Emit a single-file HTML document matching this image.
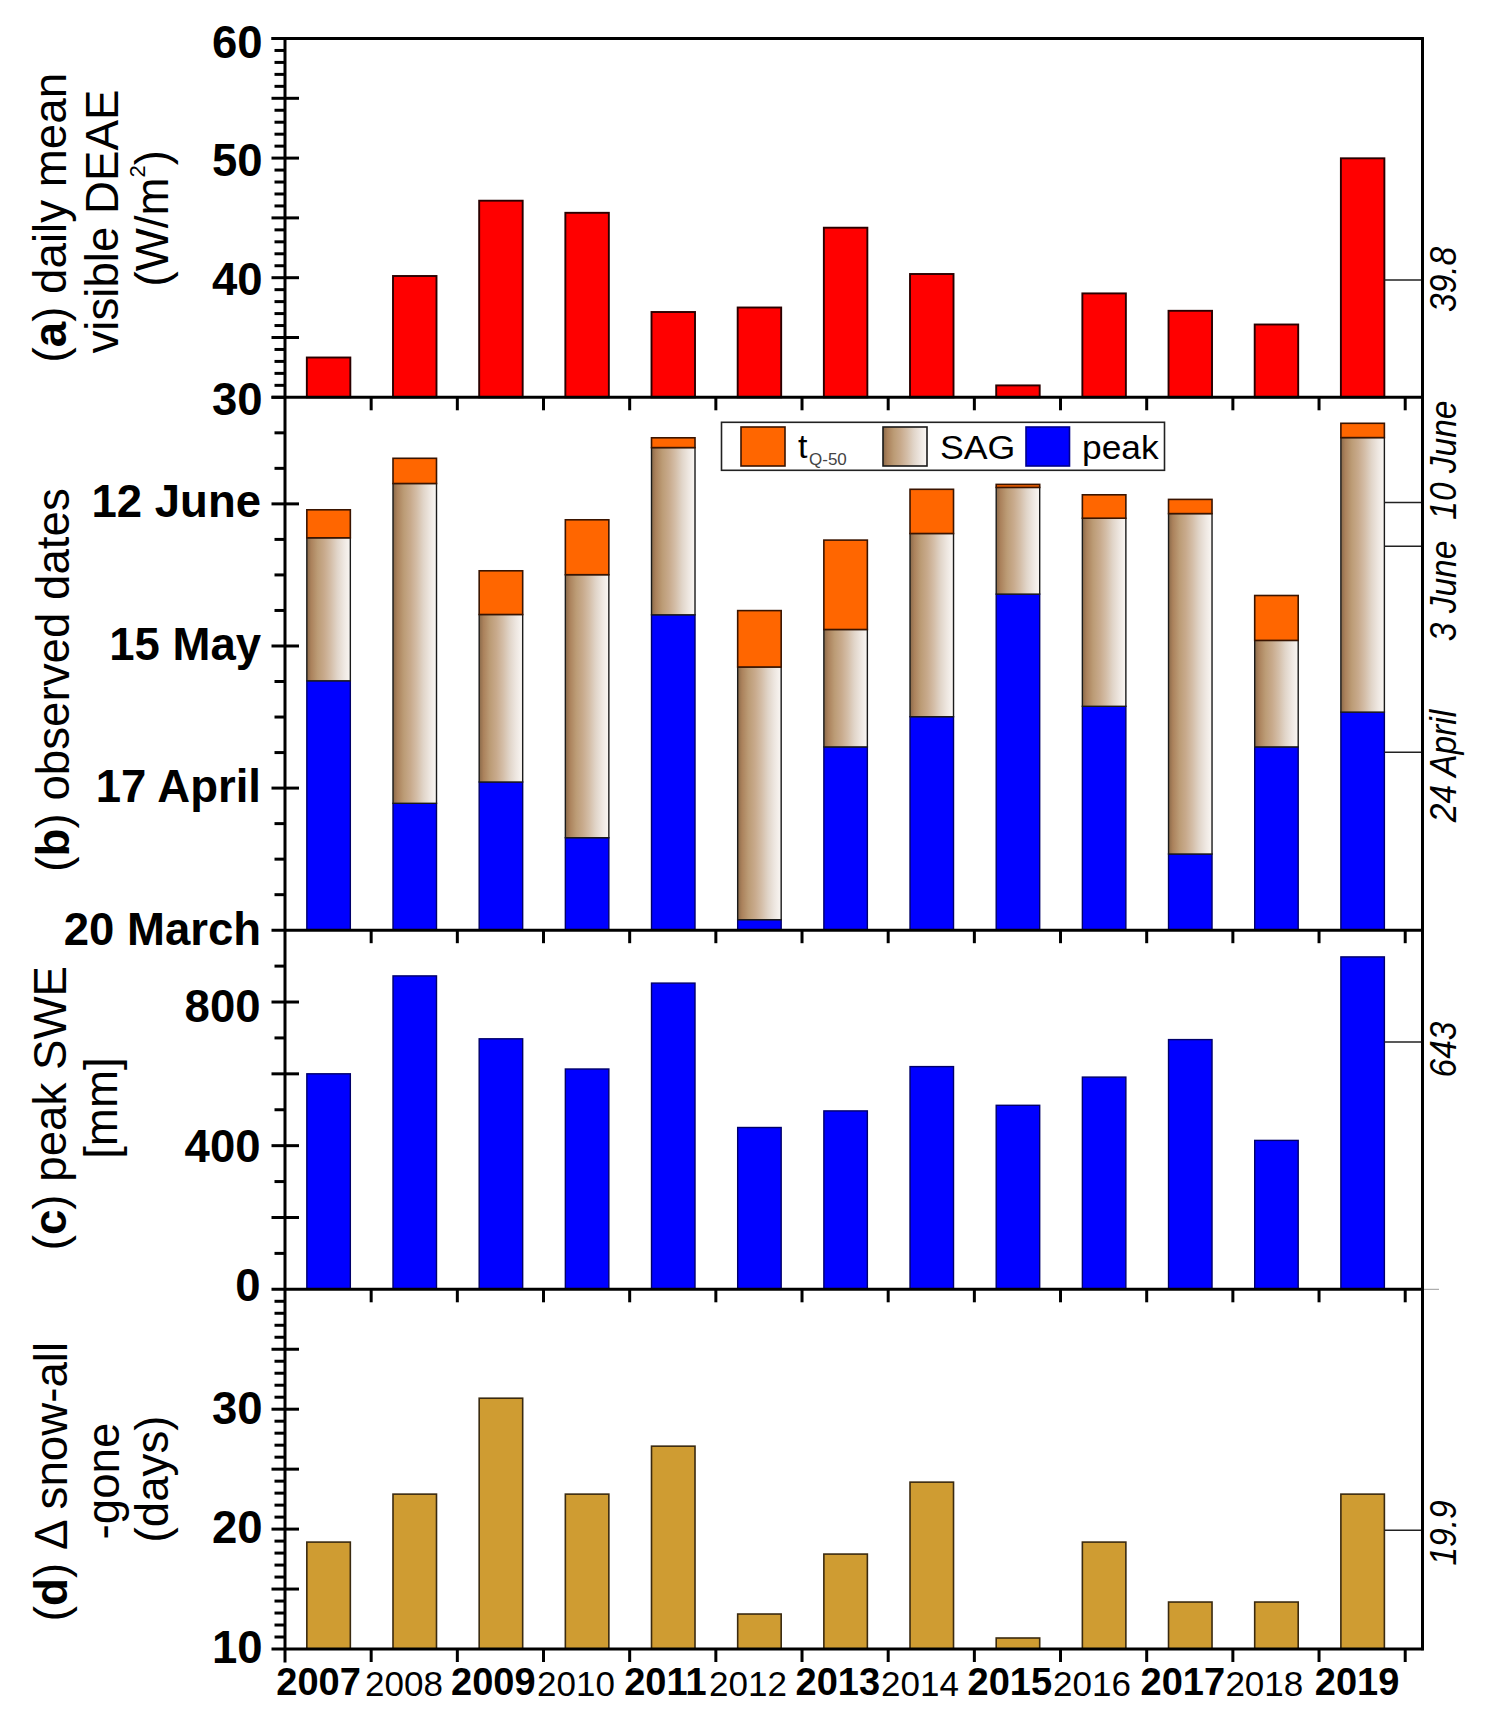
<!DOCTYPE html><html><head><meta charset="utf-8"><title>chart</title>
<style>html,body{margin:0;padding:0;background:#fff;}svg{display:block;}text{font-family:"Liberation Sans", sans-serif;}</style></head><body>
<svg width="1488" height="1725" viewBox="0 0 1488 1725">
<defs><linearGradient id="sag" x1="0" y1="0" x2="1" y2="0"><stop offset="0" stop-color="#8a6a4a"/><stop offset="0.1" stop-color="#ab825c"/><stop offset="0.25" stop-color="#bc9c76"/><stop offset="0.4" stop-color="#c8aa8c"/><stop offset="0.55" stop-color="#d4bea8"/><stop offset="0.7" stop-color="#e1d5c9"/><stop offset="0.85" stop-color="#eee7e1"/><stop offset="1" stop-color="#faf7f4"/></linearGradient></defs>
<rect width="1488" height="1725" fill="#fff"/>
<rect x="306.83" y="357.5" width="43.5" height="39.8" fill="#ff0000" stroke="#2a0000" stroke-width="1.9"/>
<rect x="393" y="276" width="43.5" height="121.3" fill="#ff0000" stroke="#2a0000" stroke-width="1.9"/>
<rect x="479.18" y="200.7" width="43.5" height="196.6" fill="#ff0000" stroke="#2a0000" stroke-width="1.9"/>
<rect x="565.35" y="212.8" width="43.5" height="184.5" fill="#ff0000" stroke="#2a0000" stroke-width="1.9"/>
<rect x="651.51" y="312" width="43.5" height="85.3" fill="#ff0000" stroke="#2a0000" stroke-width="1.9"/>
<rect x="737.68" y="307.5" width="43.5" height="89.8" fill="#ff0000" stroke="#2a0000" stroke-width="1.9"/>
<rect x="823.86" y="227.7" width="43.5" height="169.6" fill="#ff0000" stroke="#2a0000" stroke-width="1.9"/>
<rect x="910.02" y="274" width="43.5" height="123.3" fill="#ff0000" stroke="#2a0000" stroke-width="1.9"/>
<rect x="996.2" y="385.4" width="43.5" height="11.9" fill="#ff0000" stroke="#2a0000" stroke-width="1.9"/>
<rect x="1082.37" y="293.4" width="43.5" height="103.9" fill="#ff0000" stroke="#2a0000" stroke-width="1.9"/>
<rect x="1168.53" y="310.8" width="43.5" height="86.5" fill="#ff0000" stroke="#2a0000" stroke-width="1.9"/>
<rect x="1254.7" y="324.5" width="43.5" height="72.8" fill="#ff0000" stroke="#2a0000" stroke-width="1.9"/>
<rect x="1340.88" y="158.3" width="43.5" height="239" fill="#ff0000" stroke="#2a0000" stroke-width="1.9"/>
<rect x="306.83" y="680.8" width="43.5" height="249.4" fill="#0000ff" stroke="#00006a" stroke-width="1.4"/>
<rect x="306.83" y="537.8" width="43.5" height="143" fill="url(#sag)" stroke="#1a1a1a" stroke-width="1.4"/>
<rect x="306.83" y="509.8" width="43.5" height="28" fill="#ff6600" stroke="#3a1400" stroke-width="1.6"/>
<rect x="393" y="803.3" width="43.5" height="126.9" fill="#0000ff" stroke="#00006a" stroke-width="1.4"/>
<rect x="393" y="483.5" width="43.5" height="319.8" fill="url(#sag)" stroke="#1a1a1a" stroke-width="1.4"/>
<rect x="393" y="458.3" width="43.5" height="25.2" fill="#ff6600" stroke="#3a1400" stroke-width="1.6"/>
<rect x="479.18" y="782" width="43.5" height="148.2" fill="#0000ff" stroke="#00006a" stroke-width="1.4"/>
<rect x="479.18" y="614.5" width="43.5" height="167.5" fill="url(#sag)" stroke="#1a1a1a" stroke-width="1.4"/>
<rect x="479.18" y="570.8" width="43.5" height="43.7" fill="#ff6600" stroke="#3a1400" stroke-width="1.6"/>
<rect x="565.35" y="837.7" width="43.5" height="92.5" fill="#0000ff" stroke="#00006a" stroke-width="1.4"/>
<rect x="565.35" y="574.7" width="43.5" height="263" fill="url(#sag)" stroke="#1a1a1a" stroke-width="1.4"/>
<rect x="565.35" y="519.8" width="43.5" height="54.9" fill="#ff6600" stroke="#3a1400" stroke-width="1.6"/>
<rect x="651.51" y="614.8" width="43.5" height="315.4" fill="#0000ff" stroke="#00006a" stroke-width="1.4"/>
<rect x="651.51" y="447.6" width="43.5" height="167.2" fill="url(#sag)" stroke="#1a1a1a" stroke-width="1.4"/>
<rect x="651.51" y="437.8" width="43.5" height="9.8" fill="#ff6600" stroke="#3a1400" stroke-width="1.6"/>
<rect x="737.68" y="919.7" width="43.5" height="10.5" fill="#0000ff" stroke="#00006a" stroke-width="1.4"/>
<rect x="737.68" y="667" width="43.5" height="252.7" fill="url(#sag)" stroke="#1a1a1a" stroke-width="1.4"/>
<rect x="737.68" y="610.6" width="43.5" height="56.4" fill="#ff6600" stroke="#3a1400" stroke-width="1.6"/>
<rect x="823.86" y="746.9" width="43.5" height="183.3" fill="#0000ff" stroke="#00006a" stroke-width="1.4"/>
<rect x="823.86" y="629.5" width="43.5" height="117.4" fill="url(#sag)" stroke="#1a1a1a" stroke-width="1.4"/>
<rect x="823.86" y="540.1" width="43.5" height="89.4" fill="#ff6600" stroke="#3a1400" stroke-width="1.6"/>
<rect x="910.02" y="716.7" width="43.5" height="213.5" fill="#0000ff" stroke="#00006a" stroke-width="1.4"/>
<rect x="910.02" y="533.5" width="43.5" height="183.2" fill="url(#sag)" stroke="#1a1a1a" stroke-width="1.4"/>
<rect x="910.02" y="489.3" width="43.5" height="44.2" fill="#ff6600" stroke="#3a1400" stroke-width="1.6"/>
<rect x="996.2" y="594.1" width="43.5" height="336.1" fill="#0000ff" stroke="#00006a" stroke-width="1.4"/>
<rect x="996.2" y="487.4" width="43.5" height="106.7" fill="url(#sag)" stroke="#1a1a1a" stroke-width="1.4"/>
<rect x="996.2" y="484.4" width="43.5" height="3" fill="#ff6600" stroke="#3a1400" stroke-width="1.6"/>
<rect x="1082.37" y="706.3" width="43.5" height="223.9" fill="#0000ff" stroke="#00006a" stroke-width="1.4"/>
<rect x="1082.37" y="518.2" width="43.5" height="188.1" fill="url(#sag)" stroke="#1a1a1a" stroke-width="1.4"/>
<rect x="1082.37" y="494.8" width="43.5" height="23.4" fill="#ff6600" stroke="#3a1400" stroke-width="1.6"/>
<rect x="1168.53" y="854" width="43.5" height="76.2" fill="#0000ff" stroke="#00006a" stroke-width="1.4"/>
<rect x="1168.53" y="513.6" width="43.5" height="340.4" fill="url(#sag)" stroke="#1a1a1a" stroke-width="1.4"/>
<rect x="1168.53" y="499.4" width="43.5" height="14.2" fill="#ff6600" stroke="#3a1400" stroke-width="1.6"/>
<rect x="1254.7" y="746.9" width="43.5" height="183.3" fill="#0000ff" stroke="#00006a" stroke-width="1.4"/>
<rect x="1254.7" y="640.4" width="43.5" height="106.5" fill="url(#sag)" stroke="#1a1a1a" stroke-width="1.4"/>
<rect x="1254.7" y="595.5" width="43.5" height="44.9" fill="#ff6600" stroke="#3a1400" stroke-width="1.6"/>
<rect x="1340.88" y="712.1" width="43.5" height="218.1" fill="#0000ff" stroke="#00006a" stroke-width="1.4"/>
<rect x="1340.88" y="437.6" width="43.5" height="274.5" fill="url(#sag)" stroke="#1a1a1a" stroke-width="1.4"/>
<rect x="1340.88" y="423.3" width="43.5" height="14.3" fill="#ff6600" stroke="#3a1400" stroke-width="1.6"/>
<rect x="306.83" y="1073.8" width="43.5" height="215.5" fill="#0000ff" stroke="#00006a" stroke-width="1.4"/>
<rect x="393" y="975.9" width="43.5" height="313.4" fill="#0000ff" stroke="#00006a" stroke-width="1.4"/>
<rect x="479.18" y="1038.8" width="43.5" height="250.5" fill="#0000ff" stroke="#00006a" stroke-width="1.4"/>
<rect x="565.35" y="1069" width="43.5" height="220.3" fill="#0000ff" stroke="#00006a" stroke-width="1.4"/>
<rect x="651.51" y="983.1" width="43.5" height="306.2" fill="#0000ff" stroke="#00006a" stroke-width="1.4"/>
<rect x="737.68" y="1127.5" width="43.5" height="161.8" fill="#0000ff" stroke="#00006a" stroke-width="1.4"/>
<rect x="823.86" y="1110.9" width="43.5" height="178.4" fill="#0000ff" stroke="#00006a" stroke-width="1.4"/>
<rect x="910.02" y="1066.6" width="43.5" height="222.7" fill="#0000ff" stroke="#00006a" stroke-width="1.4"/>
<rect x="996.2" y="1105.3" width="43.5" height="184" fill="#0000ff" stroke="#00006a" stroke-width="1.4"/>
<rect x="1082.37" y="1077.1" width="43.5" height="212.2" fill="#0000ff" stroke="#00006a" stroke-width="1.4"/>
<rect x="1168.53" y="1039.6" width="43.5" height="249.7" fill="#0000ff" stroke="#00006a" stroke-width="1.4"/>
<rect x="1254.7" y="1140.4" width="43.5" height="148.9" fill="#0000ff" stroke="#00006a" stroke-width="1.4"/>
<rect x="1340.88" y="956.9" width="43.5" height="332.4" fill="#0000ff" stroke="#00006a" stroke-width="1.4"/>
<rect x="306.83" y="1542.09" width="43.5" height="106.91" fill="#cf9c32" stroke="#3a2a10" stroke-width="1.6"/>
<rect x="393" y="1494.13" width="43.5" height="154.87" fill="#cf9c32" stroke="#3a2a10" stroke-width="1.6"/>
<rect x="479.18" y="1398.21" width="43.5" height="250.79" fill="#cf9c32" stroke="#3a2a10" stroke-width="1.6"/>
<rect x="565.35" y="1494.13" width="43.5" height="154.87" fill="#cf9c32" stroke="#3a2a10" stroke-width="1.6"/>
<rect x="651.51" y="1446.17" width="43.5" height="202.83" fill="#cf9c32" stroke="#3a2a10" stroke-width="1.6"/>
<rect x="737.68" y="1614.03" width="43.5" height="34.97" fill="#cf9c32" stroke="#3a2a10" stroke-width="1.6"/>
<rect x="823.86" y="1554.08" width="43.5" height="94.92" fill="#cf9c32" stroke="#3a2a10" stroke-width="1.6"/>
<rect x="910.02" y="1482.14" width="43.5" height="166.86" fill="#cf9c32" stroke="#3a2a10" stroke-width="1.6"/>
<rect x="996.2" y="1638.01" width="43.5" height="10.99" fill="#cf9c32" stroke="#3a2a10" stroke-width="1.6"/>
<rect x="1082.37" y="1542.09" width="43.5" height="106.91" fill="#cf9c32" stroke="#3a2a10" stroke-width="1.6"/>
<rect x="1168.53" y="1602.04" width="43.5" height="46.96" fill="#cf9c32" stroke="#3a2a10" stroke-width="1.6"/>
<rect x="1254.7" y="1602.04" width="43.5" height="46.96" fill="#cf9c32" stroke="#3a2a10" stroke-width="1.6"/>
<rect x="1340.88" y="1494.13" width="43.5" height="154.87" fill="#cf9c32" stroke="#3a2a10" stroke-width="1.6"/>
<line x1="1384.5" y1="280.09" x2="1422.5" y2="280.09" stroke="#222" stroke-width="1.5"/>
<line x1="1384.5" y1="502.4" x2="1422.5" y2="502.4" stroke="#222" stroke-width="1.5"/>
<line x1="1384.5" y1="546.2" x2="1422.5" y2="546.2" stroke="#222" stroke-width="1.5"/>
<line x1="1384.5" y1="752.2" x2="1422.5" y2="752.2" stroke="#222" stroke-width="1.5"/>
<line x1="1384.5" y1="1042.1" x2="1422.5" y2="1042.1" stroke="#222" stroke-width="1.5"/>
<line x1="1384.5" y1="1530.3" x2="1422.5" y2="1530.3" stroke="#222" stroke-width="1.5"/>
<line x1="1422.5" y1="1289.3" x2="1439" y2="1289.3" stroke="#999" stroke-width="1"/>
<line x1="285" y1="37.2" x2="285" y2="1662.5" stroke="#000" stroke-width="3"/>
<line x1="1422.5" y1="37.2" x2="1422.5" y2="1650.3" stroke="#000" stroke-width="3"/>
<line x1="271.5" y1="38.5" x2="1423.8" y2="38.5" stroke="#000" stroke-width="3"/>
<line x1="271.5" y1="397.3" x2="1423.8" y2="397.3" stroke="#000" stroke-width="3"/>
<line x1="271.5" y1="930.2" x2="1423.8" y2="930.2" stroke="#000" stroke-width="3"/>
<line x1="271.5" y1="1289.3" x2="1423.8" y2="1289.3" stroke="#000" stroke-width="3"/>
<line x1="271.5" y1="1649" x2="1423.8" y2="1649" stroke="#000" stroke-width="3"/>
<line x1="371.17" y1="397.3" x2="371.17" y2="410.3" stroke="#000" stroke-width="3"/>
<line x1="457.34" y1="397.3" x2="457.34" y2="410.3" stroke="#000" stroke-width="3"/>
<line x1="543.51" y1="397.3" x2="543.51" y2="410.3" stroke="#000" stroke-width="3"/>
<line x1="629.68" y1="397.3" x2="629.68" y2="410.3" stroke="#000" stroke-width="3"/>
<line x1="715.85" y1="397.3" x2="715.85" y2="410.3" stroke="#000" stroke-width="3"/>
<line x1="802.02" y1="397.3" x2="802.02" y2="410.3" stroke="#000" stroke-width="3"/>
<line x1="888.19" y1="397.3" x2="888.19" y2="410.3" stroke="#000" stroke-width="3"/>
<line x1="974.36" y1="397.3" x2="974.36" y2="410.3" stroke="#000" stroke-width="3"/>
<line x1="1060.53" y1="397.3" x2="1060.53" y2="410.3" stroke="#000" stroke-width="3"/>
<line x1="1146.7" y1="397.3" x2="1146.7" y2="410.3" stroke="#000" stroke-width="3"/>
<line x1="1232.87" y1="397.3" x2="1232.87" y2="410.3" stroke="#000" stroke-width="3"/>
<line x1="1319.04" y1="397.3" x2="1319.04" y2="410.3" stroke="#000" stroke-width="3"/>
<line x1="1405.21" y1="397.3" x2="1405.21" y2="410.3" stroke="#000" stroke-width="3"/>
<line x1="371.17" y1="930.2" x2="371.17" y2="943.2" stroke="#000" stroke-width="3"/>
<line x1="457.34" y1="930.2" x2="457.34" y2="943.2" stroke="#000" stroke-width="3"/>
<line x1="543.51" y1="930.2" x2="543.51" y2="943.2" stroke="#000" stroke-width="3"/>
<line x1="629.68" y1="930.2" x2="629.68" y2="943.2" stroke="#000" stroke-width="3"/>
<line x1="715.85" y1="930.2" x2="715.85" y2="943.2" stroke="#000" stroke-width="3"/>
<line x1="802.02" y1="930.2" x2="802.02" y2="943.2" stroke="#000" stroke-width="3"/>
<line x1="888.19" y1="930.2" x2="888.19" y2="943.2" stroke="#000" stroke-width="3"/>
<line x1="974.36" y1="930.2" x2="974.36" y2="943.2" stroke="#000" stroke-width="3"/>
<line x1="1060.53" y1="930.2" x2="1060.53" y2="943.2" stroke="#000" stroke-width="3"/>
<line x1="1146.7" y1="930.2" x2="1146.7" y2="943.2" stroke="#000" stroke-width="3"/>
<line x1="1232.87" y1="930.2" x2="1232.87" y2="943.2" stroke="#000" stroke-width="3"/>
<line x1="1319.04" y1="930.2" x2="1319.04" y2="943.2" stroke="#000" stroke-width="3"/>
<line x1="1405.21" y1="930.2" x2="1405.21" y2="943.2" stroke="#000" stroke-width="3"/>
<line x1="371.17" y1="1289.3" x2="371.17" y2="1302.3" stroke="#000" stroke-width="3"/>
<line x1="457.34" y1="1289.3" x2="457.34" y2="1302.3" stroke="#000" stroke-width="3"/>
<line x1="543.51" y1="1289.3" x2="543.51" y2="1302.3" stroke="#000" stroke-width="3"/>
<line x1="629.68" y1="1289.3" x2="629.68" y2="1302.3" stroke="#000" stroke-width="3"/>
<line x1="715.85" y1="1289.3" x2="715.85" y2="1302.3" stroke="#000" stroke-width="3"/>
<line x1="802.02" y1="1289.3" x2="802.02" y2="1302.3" stroke="#000" stroke-width="3"/>
<line x1="888.19" y1="1289.3" x2="888.19" y2="1302.3" stroke="#000" stroke-width="3"/>
<line x1="974.36" y1="1289.3" x2="974.36" y2="1302.3" stroke="#000" stroke-width="3"/>
<line x1="1060.53" y1="1289.3" x2="1060.53" y2="1302.3" stroke="#000" stroke-width="3"/>
<line x1="1146.7" y1="1289.3" x2="1146.7" y2="1302.3" stroke="#000" stroke-width="3"/>
<line x1="1232.87" y1="1289.3" x2="1232.87" y2="1302.3" stroke="#000" stroke-width="3"/>
<line x1="1319.04" y1="1289.3" x2="1319.04" y2="1302.3" stroke="#000" stroke-width="3"/>
<line x1="1405.21" y1="1289.3" x2="1405.21" y2="1302.3" stroke="#000" stroke-width="3"/>
<line x1="371.17" y1="1649" x2="371.17" y2="1662" stroke="#000" stroke-width="3"/>
<line x1="457.34" y1="1649" x2="457.34" y2="1662" stroke="#000" stroke-width="3"/>
<line x1="543.51" y1="1649" x2="543.51" y2="1662" stroke="#000" stroke-width="3"/>
<line x1="629.68" y1="1649" x2="629.68" y2="1662" stroke="#000" stroke-width="3"/>
<line x1="715.85" y1="1649" x2="715.85" y2="1662" stroke="#000" stroke-width="3"/>
<line x1="802.02" y1="1649" x2="802.02" y2="1662" stroke="#000" stroke-width="3"/>
<line x1="888.19" y1="1649" x2="888.19" y2="1662" stroke="#000" stroke-width="3"/>
<line x1="974.36" y1="1649" x2="974.36" y2="1662" stroke="#000" stroke-width="3"/>
<line x1="1060.53" y1="1649" x2="1060.53" y2="1662" stroke="#000" stroke-width="3"/>
<line x1="1146.7" y1="1649" x2="1146.7" y2="1662" stroke="#000" stroke-width="3"/>
<line x1="1232.87" y1="1649" x2="1232.87" y2="1662" stroke="#000" stroke-width="3"/>
<line x1="1319.04" y1="1649" x2="1319.04" y2="1662" stroke="#000" stroke-width="3"/>
<line x1="1405.21" y1="1649" x2="1405.21" y2="1662" stroke="#000" stroke-width="3"/>
<line x1="271.5" y1="397.3" x2="285" y2="397.3" stroke="#000" stroke-width="3"/>
<line x1="274.5" y1="385.34" x2="285" y2="385.34" stroke="#000" stroke-width="3"/>
<line x1="274.5" y1="373.38" x2="285" y2="373.38" stroke="#000" stroke-width="3"/>
<line x1="274.5" y1="361.42" x2="285" y2="361.42" stroke="#000" stroke-width="3"/>
<line x1="274.5" y1="349.46" x2="285" y2="349.46" stroke="#000" stroke-width="3"/>
<line x1="271.5" y1="337.5" x2="299" y2="337.5" stroke="#000" stroke-width="3"/>
<line x1="274.5" y1="325.54" x2="285" y2="325.54" stroke="#000" stroke-width="3"/>
<line x1="274.5" y1="313.58" x2="285" y2="313.58" stroke="#000" stroke-width="3"/>
<line x1="274.5" y1="301.62" x2="285" y2="301.62" stroke="#000" stroke-width="3"/>
<line x1="274.5" y1="289.66" x2="285" y2="289.66" stroke="#000" stroke-width="3"/>
<line x1="271.5" y1="277.7" x2="299" y2="277.7" stroke="#000" stroke-width="3"/>
<line x1="274.5" y1="265.74" x2="285" y2="265.74" stroke="#000" stroke-width="3"/>
<line x1="274.5" y1="253.78" x2="285" y2="253.78" stroke="#000" stroke-width="3"/>
<line x1="274.5" y1="241.82" x2="285" y2="241.82" stroke="#000" stroke-width="3"/>
<line x1="274.5" y1="229.86" x2="285" y2="229.86" stroke="#000" stroke-width="3"/>
<line x1="271.5" y1="217.9" x2="299" y2="217.9" stroke="#000" stroke-width="3"/>
<line x1="274.5" y1="205.94" x2="285" y2="205.94" stroke="#000" stroke-width="3"/>
<line x1="274.5" y1="193.98" x2="285" y2="193.98" stroke="#000" stroke-width="3"/>
<line x1="274.5" y1="182.02" x2="285" y2="182.02" stroke="#000" stroke-width="3"/>
<line x1="274.5" y1="170.06" x2="285" y2="170.06" stroke="#000" stroke-width="3"/>
<line x1="271.5" y1="158.1" x2="299" y2="158.1" stroke="#000" stroke-width="3"/>
<line x1="274.5" y1="146.14" x2="285" y2="146.14" stroke="#000" stroke-width="3"/>
<line x1="274.5" y1="134.18" x2="285" y2="134.18" stroke="#000" stroke-width="3"/>
<line x1="274.5" y1="122.22" x2="285" y2="122.22" stroke="#000" stroke-width="3"/>
<line x1="274.5" y1="110.26" x2="285" y2="110.26" stroke="#000" stroke-width="3"/>
<line x1="271.5" y1="98.3" x2="299" y2="98.3" stroke="#000" stroke-width="3"/>
<line x1="274.5" y1="86.34" x2="285" y2="86.34" stroke="#000" stroke-width="3"/>
<line x1="274.5" y1="74.38" x2="285" y2="74.38" stroke="#000" stroke-width="3"/>
<line x1="274.5" y1="62.42" x2="285" y2="62.42" stroke="#000" stroke-width="3"/>
<line x1="274.5" y1="50.46" x2="285" y2="50.46" stroke="#000" stroke-width="3"/>
<line x1="271.5" y1="38.5" x2="285" y2="38.5" stroke="#000" stroke-width="3"/>
<line x1="274.5" y1="894.67" x2="285" y2="894.67" stroke="#000" stroke-width="3"/>
<line x1="274.5" y1="859.15" x2="285" y2="859.15" stroke="#000" stroke-width="3"/>
<line x1="274.5" y1="823.62" x2="285" y2="823.62" stroke="#000" stroke-width="3"/>
<line x1="271.5" y1="788.09" x2="299" y2="788.09" stroke="#000" stroke-width="3"/>
<line x1="274.5" y1="752.57" x2="285" y2="752.57" stroke="#000" stroke-width="3"/>
<line x1="274.5" y1="717.04" x2="285" y2="717.04" stroke="#000" stroke-width="3"/>
<line x1="274.5" y1="681.51" x2="285" y2="681.51" stroke="#000" stroke-width="3"/>
<line x1="271.5" y1="645.99" x2="299" y2="645.99" stroke="#000" stroke-width="3"/>
<line x1="274.5" y1="610.46" x2="285" y2="610.46" stroke="#000" stroke-width="3"/>
<line x1="274.5" y1="574.93" x2="285" y2="574.93" stroke="#000" stroke-width="3"/>
<line x1="274.5" y1="539.41" x2="285" y2="539.41" stroke="#000" stroke-width="3"/>
<line x1="271.5" y1="503.88" x2="299" y2="503.88" stroke="#000" stroke-width="3"/>
<line x1="274.5" y1="468.35" x2="285" y2="468.35" stroke="#000" stroke-width="3"/>
<line x1="274.5" y1="432.83" x2="285" y2="432.83" stroke="#000" stroke-width="3"/>
<line x1="274.5" y1="1253.39" x2="285" y2="1253.39" stroke="#000" stroke-width="3"/>
<line x1="271.5" y1="1217.48" x2="299" y2="1217.48" stroke="#000" stroke-width="3"/>
<line x1="274.5" y1="1181.57" x2="285" y2="1181.57" stroke="#000" stroke-width="3"/>
<line x1="271.5" y1="1145.66" x2="299" y2="1145.66" stroke="#000" stroke-width="3"/>
<line x1="274.5" y1="1109.75" x2="285" y2="1109.75" stroke="#000" stroke-width="3"/>
<line x1="271.5" y1="1073.84" x2="299" y2="1073.84" stroke="#000" stroke-width="3"/>
<line x1="274.5" y1="1037.93" x2="285" y2="1037.93" stroke="#000" stroke-width="3"/>
<line x1="271.5" y1="1002.02" x2="299" y2="1002.02" stroke="#000" stroke-width="3"/>
<line x1="274.5" y1="966.11" x2="285" y2="966.11" stroke="#000" stroke-width="3"/>
<line x1="274.5" y1="1637.01" x2="285" y2="1637.01" stroke="#000" stroke-width="3"/>
<line x1="274.5" y1="1625.02" x2="285" y2="1625.02" stroke="#000" stroke-width="3"/>
<line x1="274.5" y1="1613.03" x2="285" y2="1613.03" stroke="#000" stroke-width="3"/>
<line x1="274.5" y1="1601.04" x2="285" y2="1601.04" stroke="#000" stroke-width="3"/>
<line x1="271.5" y1="1589.05" x2="299" y2="1589.05" stroke="#000" stroke-width="3"/>
<line x1="274.5" y1="1577.06" x2="285" y2="1577.06" stroke="#000" stroke-width="3"/>
<line x1="274.5" y1="1565.07" x2="285" y2="1565.07" stroke="#000" stroke-width="3"/>
<line x1="274.5" y1="1553.08" x2="285" y2="1553.08" stroke="#000" stroke-width="3"/>
<line x1="274.5" y1="1541.09" x2="285" y2="1541.09" stroke="#000" stroke-width="3"/>
<line x1="271.5" y1="1529.1" x2="299" y2="1529.1" stroke="#000" stroke-width="3"/>
<line x1="274.5" y1="1517.11" x2="285" y2="1517.11" stroke="#000" stroke-width="3"/>
<line x1="274.5" y1="1505.12" x2="285" y2="1505.12" stroke="#000" stroke-width="3"/>
<line x1="274.5" y1="1493.13" x2="285" y2="1493.13" stroke="#000" stroke-width="3"/>
<line x1="274.5" y1="1481.14" x2="285" y2="1481.14" stroke="#000" stroke-width="3"/>
<line x1="271.5" y1="1469.15" x2="299" y2="1469.15" stroke="#000" stroke-width="3"/>
<line x1="274.5" y1="1457.16" x2="285" y2="1457.16" stroke="#000" stroke-width="3"/>
<line x1="274.5" y1="1445.17" x2="285" y2="1445.17" stroke="#000" stroke-width="3"/>
<line x1="274.5" y1="1433.18" x2="285" y2="1433.18" stroke="#000" stroke-width="3"/>
<line x1="274.5" y1="1421.19" x2="285" y2="1421.19" stroke="#000" stroke-width="3"/>
<line x1="271.5" y1="1409.2" x2="299" y2="1409.2" stroke="#000" stroke-width="3"/>
<line x1="274.5" y1="1397.21" x2="285" y2="1397.21" stroke="#000" stroke-width="3"/>
<line x1="274.5" y1="1385.22" x2="285" y2="1385.22" stroke="#000" stroke-width="3"/>
<line x1="274.5" y1="1373.23" x2="285" y2="1373.23" stroke="#000" stroke-width="3"/>
<line x1="274.5" y1="1361.24" x2="285" y2="1361.24" stroke="#000" stroke-width="3"/>
<line x1="271.5" y1="1349.25" x2="299" y2="1349.25" stroke="#000" stroke-width="3"/>
<line x1="274.5" y1="1337.26" x2="285" y2="1337.26" stroke="#000" stroke-width="3"/>
<line x1="274.5" y1="1325.27" x2="285" y2="1325.27" stroke="#000" stroke-width="3"/>
<line x1="274.5" y1="1313.28" x2="285" y2="1313.28" stroke="#000" stroke-width="3"/>
<line x1="274.5" y1="1301.29" x2="285" y2="1301.29" stroke="#000" stroke-width="3"/>
<text x="262.5" y="57.59" font-size="45.5" font-weight="bold" text-anchor="end">60</text>
<text x="262.5" y="176.39" font-size="45.5" font-weight="bold" text-anchor="end">50</text>
<text x="262.5" y="295.49" font-size="45.5" font-weight="bold" text-anchor="end">40</text>
<text x="262.5" y="414.89" font-size="45.5" font-weight="bold" text-anchor="end">30</text>
<text x="261" y="517.29" font-size="45.5" font-weight="bold" text-anchor="end">12 June</text>
<text x="261" y="659.59" font-size="45.5" font-weight="bold" text-anchor="end">15 May</text>
<text x="261" y="801.59" font-size="45.5" font-weight="bold" text-anchor="end">17 April</text>
<text x="261" y="944.79" font-size="45.5" font-weight="bold" text-anchor="end">20 March</text>
<text x="260.5" y="1022.29" font-size="45.5" font-weight="bold" text-anchor="end">800</text>
<text x="260.5" y="1162.19" font-size="45.5" font-weight="bold" text-anchor="end">400</text>
<text x="260.5" y="1301.29" font-size="45.5" font-weight="bold" text-anchor="end">0</text>
<text x="262.5" y="1424.09" font-size="45.5" font-weight="bold" text-anchor="end">30</text>
<text x="262.5" y="1543.49" font-size="45.5" font-weight="bold" text-anchor="end">20</text>
<text x="262.5" y="1662.59" font-size="45.5" font-weight="bold" text-anchor="end">10</text>
<text x="276.3" y="1695.2" font-size="38" font-weight="bold" text-anchor="start">2007</text>
<text x="365" y="1696.2" font-size="35" font-weight="normal" text-anchor="start">2008</text>
<text x="451" y="1695.2" font-size="38" font-weight="bold" text-anchor="start">2009</text>
<text x="537" y="1696.2" font-size="35" font-weight="normal" text-anchor="start">2010</text>
<text x="624.2" y="1695.2" font-size="38" font-weight="bold" text-anchor="start">2011</text>
<text x="709" y="1696.2" font-size="35" font-weight="normal" text-anchor="start">2012</text>
<text x="795.6" y="1695.2" font-size="38" font-weight="bold" text-anchor="start">2013</text>
<text x="881" y="1696.2" font-size="35" font-weight="normal" text-anchor="start">2014</text>
<text x="967.6" y="1695.2" font-size="38" font-weight="bold" text-anchor="start">2015</text>
<text x="1053" y="1696.2" font-size="35" font-weight="normal" text-anchor="start">2016</text>
<text x="1140.6" y="1695.2" font-size="38" font-weight="bold" text-anchor="start">2017</text>
<text x="1225.4" y="1696.2" font-size="35" font-weight="normal" text-anchor="start">2018</text>
<text x="1314.8" y="1695.2" font-size="38" font-weight="bold" text-anchor="start">2019</text>
<text transform="translate(1456.3,279.4) rotate(-90) scale(1,1.12)" font-size="33.5" font-style="italic" text-anchor="middle">39.8</text>
<text transform="translate(1456.3,460.1) rotate(-90) scale(1,1.12)" font-size="33.5" font-style="italic" text-anchor="middle">10 June</text>
<text transform="translate(1456.3,591) rotate(-90) scale(1,1.12)" font-size="33.5" font-style="italic" text-anchor="middle">3 June</text>
<text transform="translate(1456.3,766) rotate(-90) scale(1,1.12)" font-size="33.5" font-style="italic" text-anchor="middle">24 April</text>
<text transform="translate(1456.3,1049.5) rotate(-90) scale(1,1.12)" font-size="33.5" font-style="italic" text-anchor="middle">643</text>
<text transform="translate(1456.3,1533) rotate(-90) scale(1,1.12)" font-size="33.5" font-style="italic" text-anchor="middle">19.9</text>
<text transform="translate(66,217.7) rotate(-90)" font-size="45.7" text-anchor="middle">(<tspan font-weight="bold">a</tspan>) daily mean</text>
<text transform="translate(117.5,221.5) rotate(-90)" font-size="45.7" text-anchor="middle">visible DEAE</text>
<text transform="translate(168,218.3) rotate(-90)" font-size="45.7" text-anchor="middle">(W/m<tspan font-size="22" dy="-23.5">2</tspan><tspan dy="23.5">)</tspan></text>
<text transform="translate(68.7,679.9) rotate(-90)" font-size="45.7" text-anchor="middle">(<tspan font-weight="bold">b</tspan>) observed dates</text>
<text transform="translate(66,1108.1) rotate(-90)" font-size="45.7" text-anchor="middle">(<tspan font-weight="bold">c</tspan>) peak SWE</text>
<text transform="translate(117.3,1108.1) rotate(-90)" font-size="45.7" text-anchor="middle">[mm]</text>
<text transform="translate(66.5,1481.5) rotate(-90)" font-size="45.7" text-anchor="middle">(<tspan font-weight="bold">d</tspan>) &#916; snow-all</text>
<text transform="translate(119,1481) rotate(-90)" font-size="45.7" text-anchor="middle">-gone</text>
<text transform="translate(168,1479) rotate(-90)" font-size="45.7" text-anchor="middle">(days)</text>
<rect x="721.5" y="422.3" width="443" height="48" fill="#fff" stroke="#222" stroke-width="1.6"/>
<rect x="741" y="427" width="44" height="39" fill="#ff6600" stroke="#3a1400" stroke-width="1.6"/>
<text x="798" y="458" font-size="34">t</text>
<text x="809" y="465" font-size="17" fill="#444">Q-50</text>
<rect x="883" y="427" width="44" height="39" fill="url(#sag)" stroke="#1a1a1a" stroke-width="1.6"/>
<text x="940" y="459" font-size="34" textLength="75.4" lengthAdjust="spacingAndGlyphs">SAG</text>
<rect x="1026" y="427" width="43.5" height="39" fill="#0000ff" stroke="#00008a" stroke-width="1.6"/>
<text x="1082" y="459" font-size="34" textLength="76.6" lengthAdjust="spacingAndGlyphs">peak</text>
</svg></body></html>
